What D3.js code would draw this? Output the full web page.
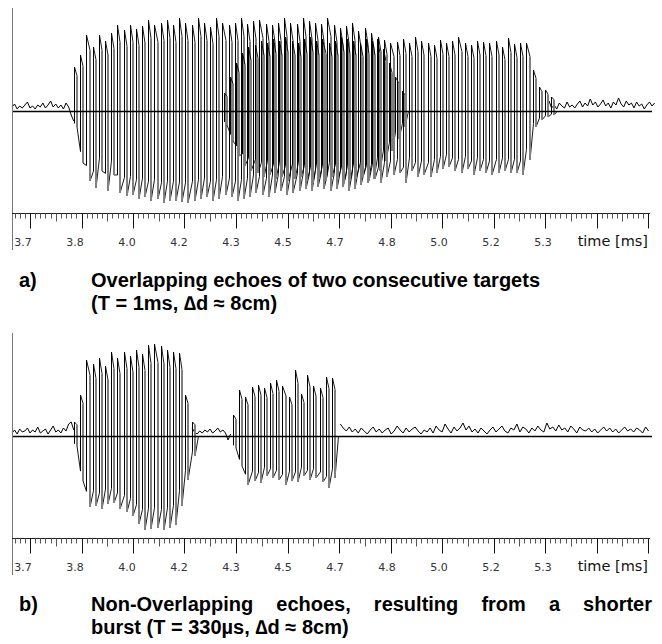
<!DOCTYPE html>
<html>
<head>
<meta charset="utf-8">
<script src="https://cdn.jsdelivr.net/npm/d3@7"></script>
<style>
  body { margin: 0; background: #fff; }
  svg { display: block; }
</style>
</head>
<body>
<svg id="chart" width="662" height="644"></svg>
<script>
// tick labels of the time axis
const timeLabels = ["3.7", "3.8", "4.0", "4.2", "4.3", "4.5", "4.7", "4.8", "5.0", "5.2", "5.3"];

// one carrier cycle, ms
const period = 0.0192;
const noiseStep = 0.008;

// a) overlapping echoes: peak amplitude per cycle
const a1Start = 3.837;
const a1Top = [44, 56, 76, 64, 76, 70, 78, 86, 81, 86, 82, 85, 91, 86, 88, 91, 86, 93, 88, 86,
  93, 88, 84, 93, 88, 86, 88, 93, 87, 90, 91, 87, 86, 88, 93, 88, 87, 93, 90, 88,
  87, 93, 86, 83, 85, 88, 80, 83, 78, 72, 62, 48, 34, 20];
const a1Bottom = [-16, -52, -70, -77, -60, -80, -64, -82, -85, -84, -88, -86, -90, -88, -92, -90, -90, -91, -92, -90,
  -88, -86, -90, -88, -84, -86, -90, -88, -86, -82, -84, -86, -82, -80, -84, -82, -80, -78, -80, -76,
  -78, -80, -78, -76, -80, -78, -74, -72, -68, -60, -50, -40, -28, -16];
const a2Start = 4.3015;
const a2Top = [18, 34, 48, 58, 64, 66, 70, 68, 72, 70, 74, 70, 68, 72, 74, 70, 72, 68, 70, 74,
  72, 70, 68, 72, 70, 74, 71, 68, 69, 72, 68, 74, 70, 68, 66, 71, 68, 70, 74, 68,
  66, 70, 69, 68, 70, 64, 73, 67, 68, 68, 41, 24, 21, 14];
const a2Bottom = [-14, -30, -45, -55, -60, -62, -66, -64, -68, -66, -70, -68, -66, -70, -72, -68, -70, -66, -68, -72,
  -70, -68, -66, -70, -68, -72, -66, -64, -62, -72, -60, -66, -64, -66, -62, -58, -56, -60, -62, -58,
  -64, -60, -62, -64, -62, -60, -62, -62, -64, -49, -16, -9, -6, -4];
const aNoise0Start = 3.644;
const aNoise0 = [4, 7, 2, 5, 3, 6, 9, 3, 5, 2, 6, 4, 8, 3, 6, 10, 4, 7, 3, 6, 2, 8, 4, -4, -10];
const aNoise1Start = 5.3125;
const aNoise1 = [10, 3, 6, 2, 8, 5, 3, 9, 4, 6, 3, 7, 10, 4, 8, 5, 12, 6, 9, 4,
  7, 11, 5, 8, 3, 9, 6, 13, 7, 4, 10, 6, 8, 3, 9, 5, 7, 2, 6, 9, 5, 8];

// b) shorter bursts, non-overlapping
const b1Start = 3.837;
const b1Top = [14, 41, 76, 72, 78, 70, 84, 78, 84, 80, 86, 82, 91, 92, 90, 86, 84, 83, 41, 14];
const b1Bottom = [-10, -45, -71, -70, -73, -68, -67, -73, -76, -80, -88, -94, -93, -92, -94, -92, -89, -70, -44, -20];
const b2Start = 4.3307;
const b2Top = [21, 46, 39, 49, 51, 48, 53, 56, 50, 39, 66, 42, 61, 50, 48, 59, 58];
const b2Bottom = [-12, -30, -49, -45, -47, -40, -42, -44, -49, -45, -46, -40, -44, -42, -46, -52, -42];
const bNoise0Start = 3.644;
const bNoise0 = [3, 6, 2, 7, 4, 5, 8, 3, 6, 4, 9, 3, 5, 7, 2, 6, 10, 4, 6, 3, 8, 5, 12, 14, 6];
const bNoise1Start = 4.2033;
const bNoise1 = [8, 4, 2, 5, 3, 6, 4, 7, 3, 5, 8, 4, 6, 3, -4, 2];
const bNoise2Start = 4.664;
const bNoise2Step = 0.0093;
const bNoise2 = [12, 8, 5, 9, 4, 7, 3, 8, 5, 2, 6, 9, 4, 7, 3, 6, 8, 2, 5, 10,
  6, 3, 8, 4, 7, 9, 5, 2, 6, 4, 8, 3, 10, 6, 4, 12, 7, 3, 9, 5,
  8, 13, 6, 10, 4, 7, 3, 8, 5, 2, 6, 9, 4, 7, 10, 5, 3, 8, 6, 12,
  4, 9, 7, 3, 8, 5, 10, 6, 4, 13, 7, 9, 5, 11, 6, 8, 4, 10, 7, 3,
  9, 6, 5, 8, 4, 7, 3, 6, 9, 5, 8, 4, 7, 3, 6, 9, 5, 7, 4, 8, 6, 3, 9, 5];

const svg = d3.select("#chart");
const x = d3.scaleLinear().domain([3.7, 5.3]).range([30, 545]);
const labelX = d3.scaleLinear().domain([0, timeLabels.length - 1]).range([23, 543]);
const left = 12, right = 650;

function drawPanel(oy, bursts, noises) {
  const g = svg.append("g");
  const y = d3.scaleLinear().domain([-102, 102]).range([oy + 213, oy + 9]);

  // noise traces
  const line = d3.line().x(d => d[0]).y(d => d[1]);
  noises.forEach(n => {
    const pts = n.values.map((v, i) => [x(n.start + i * n.step), y(v)]);
    g.append("path").attr("d", line(pts))
      .attr("fill", "none").attr("stroke", "#000").attr("stroke-width", 1);
  });

  // bursts: rising edge thin black, falling edge wider grey, snapped to pixels
  bursts.forEach(b => {
    const segs = [];
    b.top.forEach((hi, i) => {
      const lo = b.bottom[i];
      const loNext = i + 1 < b.bottom.length ? b.bottom[i + 1] : 0;
      const x0 = Math.round(x(b.start + i * period)) + 0.5;
      const xm = Math.round(x(b.start + (i + 0.5) * period));
      const x1 = Math.round(x(b.start + (i + 1) * period)) + 0.5;
      segs.push({ k: "cap", x1: x0, y1: y(hi), x2: xm, y2: y(hi * 0.8) });
      segs.push({ k: "cap", x1: xm, y1: y(lo), x2: x1, y2: y(loNext * 0.78) });
      segs.push({ k: "down", x1: xm, y1: y(hi * 0.8), x2: xm, y2: y(lo) });
      segs.push({ k: "up", x1: x0, y1: y(lo * 0.78), x2: x0, y2: y(hi) });
    });
    g.append("g").selectAll("line").data(segs).join("line")
      .attr("x1", d => d.x1).attr("y1", d => d.y1)
      .attr("x2", d => d.x2).attr("y2", d => d.y2)
      .attr("stroke", d => d.k === "down" ? "#808080" : "#000")
      .attr("stroke-width", d => d.k === "down" ? 2 : d.k === "up" ? 1 : 0.9);
  });

  // zero line
  g.append("line").attr("x1", left).attr("x2", right + 2)
    .attr("y1", Math.round(y(0)) + 0.5).attr("y2", Math.round(y(0)) + 0.5)
    .attr("stroke", "#000").attr("stroke-width", 1.5);

  // left border
  g.append("line").attr("x1", left + 0.5).attr("x2", left + 0.5)
    .attr("y1", oy + 8).attr("y2", oy + 250)
    .attr("stroke", "#777").attr("stroke-width", 1);

  // time axis
  const axisY = oy + 213.5;
  g.append("line").attr("x1", left).attr("x2", right)
    .attr("y1", axisY).attr("y2", axisY)
    .attr("stroke", "#222").attr("stroke-width", 1);
  const ticks = d3.range(-3, 121).map(k => ({ t: 3.7 + k * 0.016, k }));
  g.append("g").selectAll("line").data(ticks).join("line")
    .attr("x1", d => Math.round(x(d.t)) + 0.5).attr("x2", d => Math.round(x(d.t)) + 0.5)
    .attr("y1", axisY)
    .attr("y2", d => axisY + (d.k % 10 === 0 ? 15 : d.k % 5 === 0 ? 8 : 5))
    .attr("stroke", d => d.k % 10 === 0 ? "#111" : "#555").attr("stroke-width", 1);

  g.append("g").selectAll("text").data(timeLabels).join("text")
    .attr("x", (d, i) => labelX(i)).attr("y", oy + 246)
    .attr("text-anchor", "middle")
    .attr("font-family", "DejaVu Sans").attr("font-size", 11)
    .attr("fill", "#333").text(d => d);
  g.append("text").attr("x", 648).attr("y", oy + 246)
    .attr("text-anchor", "end")
    .attr("font-family", "DejaVu Sans").attr("font-size", 14.5)
    .attr("fill", "#111").text("time [ms]");
}

drawPanel(0,
  [{ start: a1Start, top: a1Top, bottom: a1Bottom },
   { start: a2Start, top: a2Top, bottom: a2Bottom }],
  [{ start: aNoise0Start, step: noiseStep, values: aNoise0 },
   { start: aNoise1Start, step: noiseStep, values: aNoise1 }]);

drawPanel(325,
  [{ start: b1Start, top: b1Top, bottom: b1Bottom },
   { start: b2Start, top: b2Top, bottom: b2Bottom }],
  [{ start: bNoise0Start, step: noiseStep, values: bNoise0 },
   { start: bNoise1Start, step: noiseStep, values: bNoise1 },
   { start: bNoise2Start, step: bNoise2Step, values: bNoise2 }]);

// captions
const capFont = "'Liberation Sans', Arial, sans-serif";
function caption(tag, lines, y0, justifyFirst) {
  svg.append("text").attr("x", 19).attr("y", y0)
    .attr("font-family", capFont).attr("font-weight", "bold").attr("font-size", 20)
    .text(tag);
  lines.forEach((ln, li) => {
    const yy = y0 + li * 23;
    if (li === 0 && justifyFirst) {
      const words = ln.split(" ");
      const nodes = words.map(w => svg.append("text").attr("y", yy)
        .attr("font-family", capFont).attr("font-weight", "bold").attr("font-size", 20).text(w));
      const widths = nodes.map(n => n.node().getComputedTextLength());
      const gap = (652 - 91 - d3.sum(widths)) / (words.length - 1);
      let cx = 91;
      nodes.forEach((n, i) => { n.attr("x", cx); cx += widths[i] + gap; });
    } else {
      svg.append("text").attr("x", 91).attr("y", yy)
        .attr("font-family", capFont).attr("font-weight", "bold").attr("font-size", 20)
        .text(ln);
    }
  });
}
caption("a)", ["Overlapping echoes of two consecutive targets", "(T = 1ms, \u2206d \u2248 8cm)"], 287, false);
caption("b)", ["Non-Overlapping echoes, resulting from a shorter", "burst (T = 330\u00b5s, \u2206d \u2248 8cm)"], 611, true);
</script>
</body>
</html>
